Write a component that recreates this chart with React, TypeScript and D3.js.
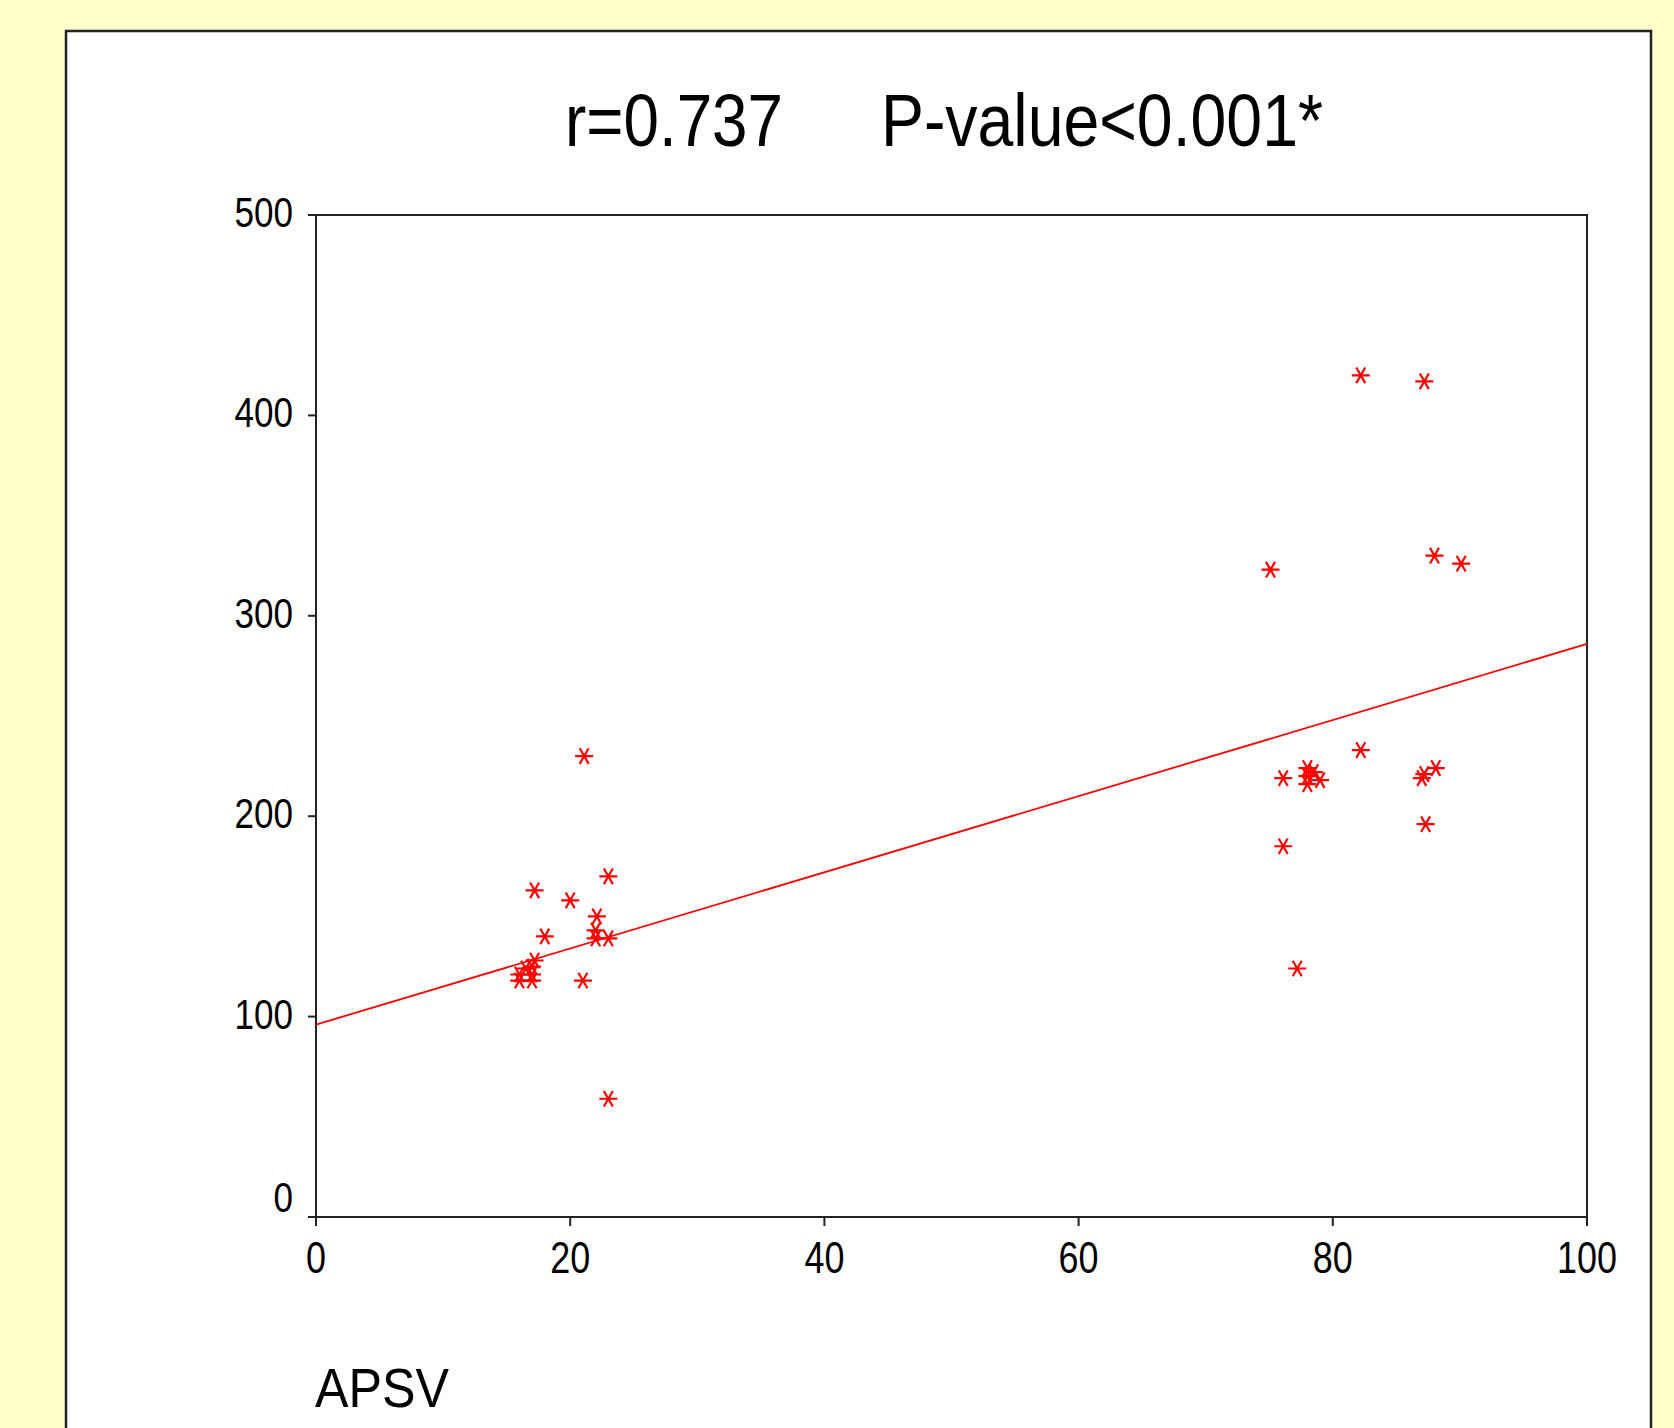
import React, { useEffect, useRef } from "react";
import * as d3 from "d3";

// values
const apsv = [
  82.2, 87.2, 75.1, 88, 90.1,
  82.2, 76.1, 78, 78, 78, 78.5, 79,
  87.2, 87, 88.1, 87.3, 76.1, 77.2,
  21.1, 23, 17.2, 20, 22.1, 18, 22, 22, 23, 21, 23,
  16, 16, 16.5, 17, 17, 17, 17.2,
];
const yValues = [
  420, 417, 323, 330, 326,
  233, 219, 224, 220, 216, 222, 218,
  221, 219, 224, 196, 185, 124,
  230, 170, 163, 158, 150, 140, 143, 139, 139, 118, 59,
  118, 121, 124, 118, 121, 125, 128,
];
const fitIntercept = 96;
const fitSlope = 1.9;
const xTicks = [0, 20, 40, 60, 80, 100];
const yTicks = [0, 100, 200, 300, 400, 500];
const titleParts = ["r=0.737", "P-value<0.001*"];
const xLabel = "APSV";

const W = 1674;
const H = 1428;
const FONT = "'Liberation Sans', Arial, sans-serif";

export default function App() {
  const ref = useRef<SVGSVGElement>(null);

  useEffect(() => {
    const svg = d3.select(ref.current);
    svg.selectAll("*").remove();

    const left = 316, right = 1587, top = 215, bottom = 1217;
    const x = d3.scaleLinear().domain([0, 100]).range([left, right]);
    const y = d3.scaleLinear().domain([0, 500]).range([bottom, top]);

    svg.append("rect").attr("width", W).attr("height", H).attr("fill", "#ffffcc");
    svg
      .append("rect")
      .attr("x", 66)
      .attr("y", 31)
      .attr("width", 1585)
      .attr("height", H)
      .attr("fill", "#fff")
      .attr("stroke", "#222")
      .attr("stroke-width", 2.5);

    // title
    svg
      .append("text")
      .attr("x", 565)
      .attr("y", 146)
      .attr("font-family", FONT)
      .attr("font-size", 74)
      .attr("textLength", 218)
      .attr("lengthAdjust", "spacingAndGlyphs")
      .text(titleParts[0]);
    svg
      .append("text")
      .attr("x", 881)
      .attr("y", 146)
      .attr("font-family", FONT)
      .attr("font-size", 74)
      .attr("textLength", 442)
      .attr("lengthAdjust", "spacingAndGlyphs")
      .text(titleParts[1]);

    // plot box
    svg
      .append("rect")
      .attr("x", left)
      .attr("y", top)
      .attr("width", right - left)
      .attr("height", bottom - top)
      .attr("fill", "none")
      .attr("stroke", "#222")
      .attr("stroke-width", 2);

    // y axis
    const yAxis = svg.append("g");
    yAxis
      .selectAll("line")
      .data(yTicks)
      .enter()
      .append("line")
      .attr("x1", left - 8)
      .attr("x2", left)
      .attr("y1", (d) => y(d))
      .attr("y2", (d) => y(d))
      .attr("stroke", "#222")
      .attr("stroke-width", 2);
    yAxis
      .selectAll("text")
      .data(yTicks)
      .enter()
      .append("text")
      .attr("x", 293)
      .attr("y", (d) => y(d) + 12 - (d === 0 ? 17 : 0))
      .attr("text-anchor", "end")
      .attr("font-family", FONT)
      .attr("font-size", 42)
      .attr("textLength", (d) => String(d).length * 19.5)
      .attr("lengthAdjust", "spacingAndGlyphs")
      .text((d) => d);

    // x axis
    const xAxis = svg.append("g");
    xAxis
      .selectAll("line")
      .data(xTicks)
      .enter()
      .append("line")
      .attr("x1", (d) => x(d))
      .attr("x2", (d) => x(d))
      .attr("y1", bottom)
      .attr("y2", bottom + 9)
      .attr("stroke", "#222")
      .attr("stroke-width", 2);
    xAxis
      .selectAll("text")
      .data(xTicks)
      .enter()
      .append("text")
      .attr("x", (d) => x(d))
      .attr("y", 1273)
      .attr("text-anchor", "middle")
      .attr("font-family", FONT)
      .attr("font-size", 45)
      .attr("textLength", (d) => String(d).length * 20)
      .attr("lengthAdjust", "spacingAndGlyphs")
      .text((d) => d);

    svg
      .append("text")
      .attr("x", 315)
      .attr("y", 1407)
      .attr("font-family", FONT)
      .attr("font-size", 56)
      .attr("textLength", 134)
      .attr("lengthAdjust", "spacingAndGlyphs")
      .text(xLabel);

    // fit line
    svg
      .append("line")
      .attr("x1", x(0))
      .attr("y1", y(fitIntercept))
      .attr("x2", x(100))
      .attr("y2", y(fitIntercept + fitSlope * 100))
      .attr("stroke", "#ff0000")
      .attr("stroke-width", 1.8);

    // asterisk markers: horizontal bar plus two diagonals
    const r = 9;
    const a = Math.PI / 3;
    const star =
      `M${-r},0L${r},0` +
      `M${-r * Math.cos(a)},${-r * Math.sin(a)}L${r * Math.cos(a)},${r * Math.sin(a)}` +
      `M${r * Math.cos(a)},${-r * Math.sin(a)}L${-r * Math.cos(a)},${r * Math.sin(a)}`;
    svg
      .append("g")
      .selectAll("path")
      .data(apsv.map((v, i) => [v, yValues[i]]))
      .enter()
      .append("path")
      .attr("transform", (d) => `translate(${x(d[0])},${y(d[1])})`)
      .attr("d", star)
      .attr("fill", "none")
      .attr("stroke", "#ff0000")
      .attr("stroke-width", 2.2);
  }, []);

  return (
    <svg
      ref={ref}
      width={W}
      height={H}
      style={{ position: "absolute", left: 0, top: 0, display: "block" }}
    ></svg>
  );
}
